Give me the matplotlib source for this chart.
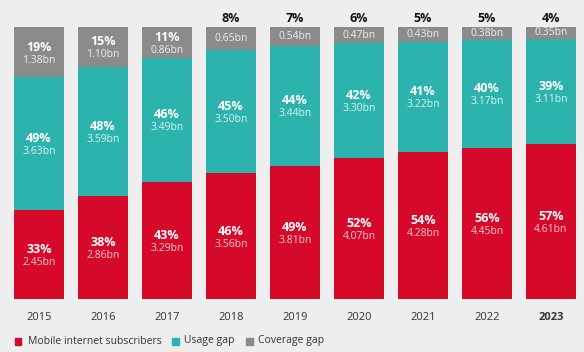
import numpy as np
import matplotlib.pyplot as plt
from matplotlib.patches import Rectangle

plt.rcParams["font.family"] = ["Open Sans", "DejaVu Sans"]

years = ["2015", "2016", "2017", "2018", "2019", "2020", "2021", "2022", "2023"]
subs_bn = [2.45, 2.86, 3.29, 3.56, 3.81, 4.07, 4.28, 4.45, 4.61]
usage_bn = [3.63, 3.59, 3.49, 3.50, 3.44, 3.30, 3.22, 3.17, 3.11]
cov_bn = [1.38, 1.10, 0.86, 0.65, 0.54, 0.47, 0.43, 0.38, 0.35]
subs_pct = [33, 38, 43, 46, 49, 52, 54, 56, 57]
usage_pct = [49, 48, 46, 45, 44, 42, 41, 40, 39]
cov_pct = [19, 15, 11, 8, 7, 6, 5, 5, 4]

red = "#d6092b"
teal = "#2db3ae"
grey = "#8b8b8b"
bg = "#eeeeee"

fig = plt.figure(figsize=(5.84, 3.52), dpi=100, facecolor=bg)
ax = fig.add_axes([0, 53 / 352, 1, 272 / 352])
ax.set_facecolor(bg)

x = np.arange(len(years))
total = np.array(subs_bn) + np.array(usage_bn) + np.array(cov_bn)
s = np.array(subs_bn) / total
u = np.array(usage_bn) / total
c = np.array(cov_bn) / total

w = 50 / 64
ax.bar(x, s, w, color=red)
ax.bar(x, u, w, bottom=s, color=teal)
ax.bar(x, c, w, bottom=s + u, color=grey)

px = 1 / 272


def seg_label(xi, mid, pct, bn, col_bn):
    ax.text(xi, mid + 5 * px, f"{pct}%", ha="center", va="center", color="white",
            fontsize=9, fontweight="bold")
    ax.text(xi, mid - 8 * px, f"{bn:.2f}bn", ha="center", va="center", color=col_bn,
            fontsize=7.5)


for i in range(len(years)):
    seg_label(x[i], s[i] / 2, subs_pct[i], subs_bn[i], "#f7c9d0")
    seg_label(x[i], s[i] + u[i] / 2, usage_pct[i], usage_bn[i], "#d8f3f2")
    if c[i] > 0.1:
        seg_label(x[i], s[i] + u[i] + c[i] / 2, cov_pct[i], cov_bn[i], "#eeeeee")
    else:
        ax.text(x[i], s[i] + u[i] + c[i] / 2, f"{cov_bn[i]:.2f}bn", ha="center",
                va="center", color="#eeeeee", fontsize=7.5)
        ax.text(x[i], 1 + 8 * px, f"{cov_pct[i]}%", ha="center", va="center",
                color="#111111", fontsize=9, fontweight="bold", clip_on=False)
    ax.text(x[i], -18 * px, years[i], ha="center", va="center", color="#333333",
            fontsize=8, fontweight="bold" if years[i] == "2023" else "normal",
            clip_on=False)

ax.set_xlim(-39 / 64, (584 - 39) / 64)
ax.set_ylim(0, 1)
ax.axis("off")

# legend
legend_items = [(18, 28, "Mobile internet subscribers", red),
                (175, 184, "Usage gap", teal),
                (249, 258, "Coverage gap", grey)]
for mx, tx, label, col in legend_items:
    fig.patches.append(Rectangle(((mx - 3.5) / 584, (352 - 341 - 3.5) / 352),
                                 7 / 584, 7 / 352, transform=fig.transFigure,
                                 color=col, zorder=5))
    fig.text(tx / 584, (352 - 341) / 352, label, ha="left", va="center",
             color="#333333", fontsize=7.5)

fig.savefig("out.png", dpi=100, facecolor=bg)
